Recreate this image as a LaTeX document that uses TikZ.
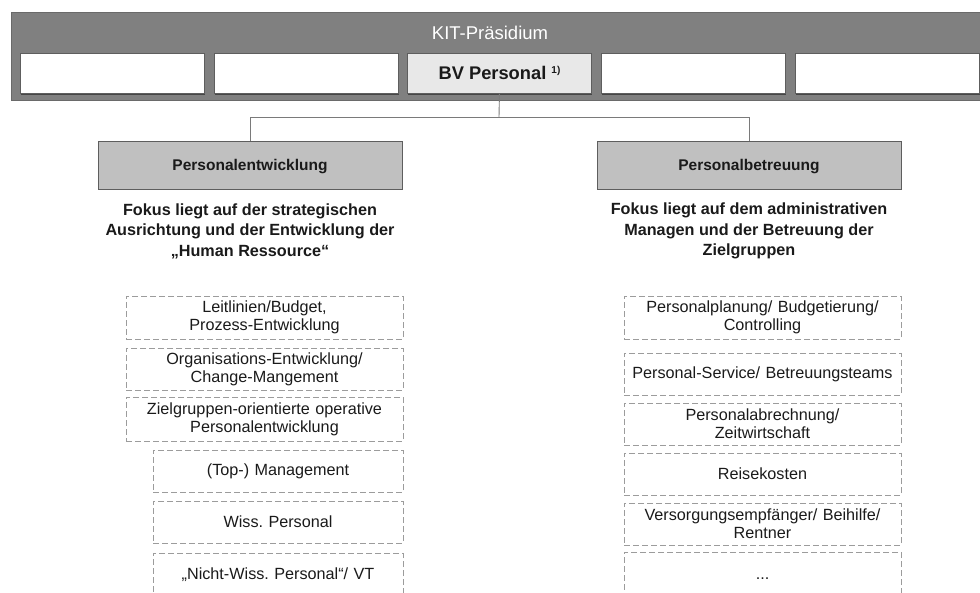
\documentclass[tikz,border=0pt]{standalone}
\usepackage{fontspec}
\setmainfont{Liberation Sans}
\usetikzlibrary{shadows}
\frenchspacing

\definecolor{bandgray}{HTML}{808080}
\definecolor{bandline}{HTML}{6A6A6A}
\definecolor{boxline}{HTML}{5E5E5E}
\definecolor{unitfill}{HTML}{C0C0C0}
\definecolor{bvfill}{HTML}{E8E8E8}
\definecolor{dashgray}{HTML}{9C9C9C}
\definecolor{linkgray}{HTML}{7A7A7A}
\definecolor{ink}{HTML}{1A1A1A}

\tikzset{
  bandbox/.style={draw=bandline, fill=bandgray, line width=0.8pt,
    minimum width=975pt, minimum height=88pt, anchor=north west, inner sep=0pt},
  seatbox/.style={draw=boxline, fill=white, line width=0.9pt,
    minimum width=184pt, minimum height=40pt, anchor=north west, inner sep=0pt,
    drop shadow={shadow xshift=1pt, shadow yshift=-1.2pt, fill=black, opacity=0.45}},
  unitbox/.style={draw=boxline, fill=unitfill, line width=0.9pt,
    minimum width=304pt, minimum height=48pt, inner sep=0pt, text=ink,
    text height=11pt, text depth=0pt,
    font=\fontsize{15.5}{18}\selectfont\bfseries},
  focustext/.style={align=center, text=ink, inner sep=0pt,
    font=\fontsize{16.2}{20.5}\selectfont\bfseries},
  taskbox/.style={draw=dashgray, line width=0.9pt, dash pattern=on 6pt off 3pt,
    minimum width=277pt, text width=270pt, align=center, inner sep=0pt, text=ink,
    font=\fontsize{16.2}{18}\selectfont},
  subtaskbox/.style={taskbox, minimum width=250pt, text width=244pt},
  link/.style={draw=linkgray, line width=0.9pt}
}

\begin{document}
\begin{tikzpicture}[x=1pt, y=-1pt]
\useasboundingbox (0,0) rectangle (980,592);
\clip (0,0) rectangle (980,592);

% executive board band
\node[bandbox] (praes) at (11,12) {};
\node[text=white, font=\fontsize{18.5}{20}\selectfont, inner sep=0pt] (kit) at (490,33) {KIT-Präsidium};

% board seats
\node[seatbox] (s1) at (20,53) {};
\node[seatbox] (s2) at (214,53) {};
\node[seatbox, fill=bvfill, font=\fontsize{18.3}{20}\selectfont\bfseries, text=ink] (bv) at (407,53)
  {BV Personal {\fontsize{10}{10}\selectfont\raisebox{6pt}{1)}}};
\node[seatbox] (s4) at (601,53) {};
\node[seatbox] (s5) at (795,53) {};

% departments
\node[unitbox] (pe) at (250,165) {Personalentwicklung};
\node[unitbox] (pb) at (749,165) {Personalbetreuung};

% connectors
\coordinate (hub) at (499,117);
\draw[link] (bv.south) -- (hub);
\draw[link] (hub) -| (pe.north);
\draw[link] (hub) -| (pb.north);

% focus statements
\node[focustext] (pefocus) at (250,231)
  {Fokus liegt auf der strategischen\\Ausrichtung und der Entwicklung der\\„Human Ressource“};
\node[focustext] (pbfocus) at (749,231)
  {Fokus liegt auf dem administrativen\\Managen und der Betreuung der\\Zielgruppen};

% tasks of Personalentwicklung
\node[taskbox, minimum height=43pt] (l1) at (264.5,317.5) {Leitlinien/Budget,\\Prozess-Entwicklung};
\node[taskbox, minimum height=42pt] (l2) at (264.5,369) {Organisations-Entwicklung/\\Change-Mangement};
\node[taskbox, minimum height=44pt] (l3) at (264.5,419) {Zielgruppen-orientierte operative\\Personalentwicklung};
\node[subtaskbox, minimum height=42pt] (l4) at (278,471) {(Top-) Management};
\node[subtaskbox, minimum height=42pt] (l5) at (278,522) {Wiss. Personal};
\node[subtaskbox, minimum height=43pt] (l6) at (278,574.5) {„Nicht-Wiss. Personal“/ VT};

% tasks of Personalbetreuung
\node[taskbox, minimum height=43pt] (r1) at (762.5,317.5) {Personalplanung/ Budgetierung/\\Controlling};
\node[taskbox, minimum height=42pt] (r2) at (762.5,374) {Personal-Service/ Betreuungsteams};
\node[taskbox, minimum height=42pt] (r3) at (762.5,424) {Personalabrechnung/\\Zeitwirtschaft};
\node[taskbox, minimum height=42pt] (r4) at (762.5,474) {Reisekosten};
\node[taskbox, minimum height=42pt] (r5) at (762.5,524) {Versorgungsempfänger/ Beihilfe/\\Rentner};
\node[taskbox, minimum height=44pt, text height=10pt, text depth=0pt] (r6) at (762.5,574) {...};
\end{tikzpicture}
\end{document}
